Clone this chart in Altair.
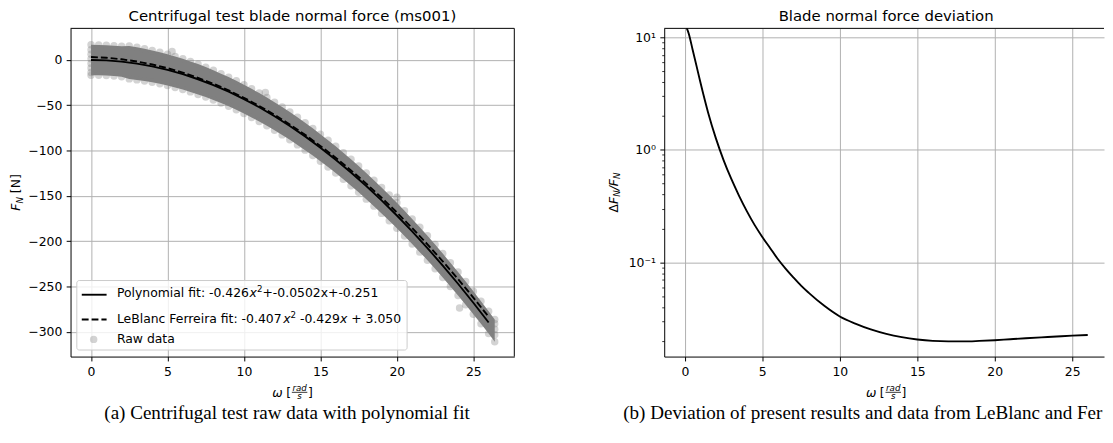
import altair as alt
import pandas as pd

# ---------------- data ----------------
# left panel: fitted curves (omega [rad/s], F_N [N])
fit_omega = [0, 1, 2, 3, 4, 5, 6, 7, 8, 9, 10, 11, 12, 13, 14, 15, 16, 17, 18, 19, 20, 21, 22, 23, 24, 25, 26]
poly_force = [-0.25, -0.73, -2.06, -4.24, -7.27, -11.15, -15.89, -21.48, -27.92, -35.21, -43.35, -52.35,
              -62.20, -72.90, -84.45, -96.85, -110.11, -124.22, -139.18, -154.99, -171.66, -189.17,
              -207.54, -226.76, -246.83, -267.76, -289.53]
leblanc_force = [3.05, 2.21, 0.56, -1.90, -5.18, -9.27, -14.18, -19.90, -26.43, -33.78, -41.94, -50.92,
                 -60.71, -71.31, -82.73, -94.96, -108.01, -121.87, -136.54, -152.03, -168.33, -185.45,
                 -203.38, -222.12, -241.68, -262.05, -283.24]

# raw-data cloud: upper / lower edge of the dense band
band_omega = [0.0, 0.5, 1.0, 1.5, 2.0, 2.5, 3.0, 3.5, 4.0, 4.5, 5.0, 5.5, 6.0, 6.5, 7.0, 7.5, 8.0, 8.5,
              9.0, 9.5, 10.0, 10.5, 11.0, 11.5, 12.0, 12.5, 13.0, 13.5, 14.0, 14.5, 15.0, 15.5, 16.0,
              16.5, 17.0, 17.5, 18.0, 18.5, 19.0, 19.5, 20.0, 20.5, 21.0, 21.5, 22.0, 22.5, 23.0, 23.5,
              24.0, 24.5, 25.0, 25.5, 26.0, 26.4]
band_upper = [16.6, 16.4, 16.0, 15.5, 14.8, 15.1, 13.8, 12.2, 10.3, 8.3, 6.2, 3.7, 1.1, -1.8, -4.8, -8.1,
              -11.5, -15.3, -19.1, -23.2, -27.5, -32.0, -36.7, -41.6, -46.7, -52.0, -57.6, -63.4, -69.4,
              -75.6, -82.0, -88.6, -95.4, -102.5, -109.6, -117.1, -124.8, -132.7, -140.7, -149.0, -157.6,
              -166.3, -175.4, -184.6, -194.0, -203.6, -213.6, -223.6, -233.9, -244.4, -255.2, -266.0,
              -277.2, -286.3]
band_lower = [-17.2, -17.2, -17.4, -18.0, -18.8, -21.1, -22.2, -23.5, -24.9, -26.5, -28.5, -30.5, -32.9,
              -35.4, -38.2, -41.1, -44.3, -47.7, -51.3, -55.2, -59.3, -63.6, -68.1, -72.8, -77.7, -82.8,
              -88.2, -93.8, -99.6, -105.6, -111.8, -118.2, -124.8, -131.7, -138.8, -146.1, -153.6, -161.3,
              -169.3, -177.4, -185.8, -194.3, -203.0, -212.0, -221.0, -230.4, -240.0, -249.8, -259.7,
              -270.0, -280.4, -291.0, -301.8, -310.7]
col_omega = [0.0, 0.0, 0.0, 0.0, 0.0, 0.0, 26.4, 26.4, 26.4]
col_force = [11.0, 6.0, 1.0, -4.0, -9.0, -14.0, -291.0, -297.0, -303.0]
stray_omega = [5.3, 11.4, 20.0, 24.1]
stray_force = [9.1, -36.0, -151.4, -273.5]

# right panel: deviation dF_N / F_N
dev_omega = [0, 0.25, 0.5, 0.75, 1, 1.5, 2, 2.5, 3, 3.5, 4, 4.5, 5, 5.5, 6, 6.5, 7, 7.5, 8, 9, 10,
             11, 12, 13, 14, 15, 16, 17, 18, 19, 20, 21, 22, 23, 24, 25, 26]
dev_ratio = [13.2, 10.8, 7.8, 5.6, 4.0, 2.15, 1.27, 0.81, 0.55, 0.39, 0.285, 0.215, 0.168, 0.134,
             0.107, 0.088, 0.0735, 0.062, 0.0535, 0.041, 0.033, 0.0285, 0.0253, 0.0231, 0.0216,
             0.0206, 0.0200, 0.0198, 0.0198, 0.0200, 0.0203, 0.0207, 0.0211, 0.0215, 0.0219,
             0.0223, 0.0226]

x_ticks = [0, 5, 10, 15, 20, 25]
y_ticks_left = [0, -50, -100, -150, -200, -250, -300]
y_ticks_right = [0.1, 1, 10]
y_minor_right = [0.02, 0.03, 0.04, 0.05, 0.06, 0.07, 0.08, 0.09,
                 0.2, 0.3, 0.4, 0.5, 0.6, 0.7, 0.8, 0.9,
                 2, 3, 4, 5, 6, 7, 8, 9]

title_left = "Centrifugal test blade normal force (ms001)"
title_right = "Blade normal force deviation"
caption_left = "(a) Centrifugal test raw data with polynomial fit"
caption_right = "(b) Deviation of present results and data from LeBlanc and Ferreira"

# ---------------- styling helpers ----------------
FONT = "DejaVu Sans"
SERIF = "Liberation Serif"
LW, LH = 447, 330.6
RW = 443
NB = "\u00a0"

EM = {' ': .318, '-': .361, '.': .318, '+': .838, ':': .337, 'x': .592, 'P': .603, 'o': .612,
      'l': .278, 'y': .592, 'n': .634, 'm': .974, 'i': .278, 'a': .613, 'f': .352, 't': .392,
      'L': .557, 'e': .615, 'B': .686, 'c': .550, 'F': .575, 'r': .411, 'R': .695, 'w': .818,
      'd': .635, '[': .390, ']': .390, 'N': .748, 'Δ': .684, '/': .337, 's': .521}
for _d in "0123456789":
    EM[_d] = .636


def tw(s, size):
    return sum(EM.get(c, 0.6) for c in s) * size


one = pd.DataFrame({"k": [0]})


def txt(s, x, y, size=12.5, style="normal", angle=0, align="left", font=FONT, **kw):
    return alt.Chart(one).mark_text(
        text=s.replace(" ", NB), font=font, fontSize=size, fontStyle=style, angle=angle, align=align,
        baseline="alphabetic", color="black", **kw
    ).encode(x=alt.value(x), y=alt.value(y))


def rule(x, x2, y, y2, width=1.0, color="black", dash=None, opacity=1.0):
    kw = dict(color=color, strokeWidth=width, opacity=opacity)
    if dash:
        kw["strokeDash"] = dash
    return alt.Chart(one).mark_rule(**kw).encode(
        x=alt.value(x), x2=alt.value(x2), y=alt.value(y), y2=alt.value(y2))


def hpieces(parts, x0, yb):
    out, x = [], x0
    for t, kind in parts:
        if kind == "n":
            sz, st, dy = 12.5, "normal", 0.0
        elif kind == "i":
            sz, st, dy = 12.5, "italic", 0.0
        else:
            sz, st, dy = 8.75, "normal", -5.0
        core = t.lstrip(" ")
        lead = tw(t[: len(t) - len(core)], sz)
        out.append(txt(core, x + lead, yb + dy, size=sz, style=st))
        x += tw(t, sz)
    return out


def vpieces(parts, xb, yc):
    total = sum(tw(t, sz) for t, sz, st, dx in parts)
    y = yc + total / 2
    out = []
    for t, sz, st, dx in parts:
        core = t.lstrip(" ")
        lead = tw(t[: len(t) - len(core)], sz)
        out.append(txt(core, xb + dx, y - lead, size=sz, style=st, angle=270))
        y -= tw(t, sz)
    return out


def xtitle(cx):
    yb = 371.3
    return [
        txt("ω", cx - 20.3, yb, style="italic"),
        txt("[", cx - 6.3, yb),
        txt("rad", cx + 7.2, 365.1, size=8.75, style="italic", align="center"),
        rule(cx - 0.6, cx + 15.0, 366.6, 366.6, width=0.8),
        txt("s", cx + 7.2, 372.9, size=8.75, style="italic", align="center"),
        txt("]", cx + 15.6, yb),
    ]


axis_x = alt.Axis(values=x_ticks, format="d", grid=True, title=None)
axis_y_left = alt.Axis(values=y_ticks_left, format="d", grid=True, title=None)

# ---------------- left panel ----------------
band_df = pd.DataFrame({"w": band_omega, "up": band_upper, "lo": band_lower})
edge_df = pd.DataFrame({"w": band_omega + band_omega + col_omega + stray_omega,
                        "f": band_upper + band_lower + col_force + stray_force})
fit_df = pd.DataFrame({"w": fit_omega, "poly": poly_force, "lb": leblanc_force})

xs_left = alt.Scale(domain=[-1.34, 27.68], nice=False, zero=False)
ys_left = alt.Scale(domain=[-327.1, 34.6], nice=False, zero=False)

band = alt.Chart(band_df).mark_area(color="#808080", opacity=1).encode(
    x=alt.X("w:Q", scale=xs_left, axis=axis_x),
    y=alt.Y("up:Q", scale=ys_left, axis=axis_y_left),
    y2="lo:Q",
)
edges = alt.Chart(edge_df).mark_circle(size=56, color="#808080", opacity=0.35).encode(
    x=alt.X("w:Q", scale=xs_left, axis=axis_x),
    y=alt.Y("f:Q", scale=ys_left, axis=axis_y_left),
)
poly_line = alt.Chart(fit_df).mark_line(color="black", strokeWidth=1.9).encode(
    x=alt.X("w:Q", scale=xs_left, axis=axis_x),
    y=alt.Y("poly:Q", scale=ys_left, axis=axis_y_left),
)
lb_line = alt.Chart(fit_df).mark_line(color="black", strokeWidth=1.9, strokeDash=[6.9, 3.0]).encode(
    x=alt.X("w:Q", scale=xs_left, axis=axis_x),
    y=alt.Y("lb:Q", scale=ys_left, axis=axis_y_left),
)

legend_box = alt.Chart(one).mark_rect(
    fill="white", fillOpacity=0.8, stroke="#cccccc", strokeWidth=1, cornerRadius=2.5
).encode(x=alt.value(6.3), x2=alt.value(339), y=alt.value(254), y2=alt.value(324))
legend_items = [
    rule(11.3, 36.3, 268.3, 268.3, width=1.9),
    rule(11.3, 36.3, 293.3, 293.3, width=1.9, dash=[6.9, 3.0]),
    alt.Chart(one).mark_circle(size=56, color="#808080", opacity=0.35).encode(
        x=alt.value(23.3), y=alt.value(313.3)),
]
legend_text = (
    hpieces([("Polynomial fit: -0.426", "n"), ("x", "i"), ("2", "sup"), ("+-0.0502x+-0.251", "n")], 46.7, 270.6)
    + hpieces([("LeBlanc Ferreira fit: -0.407", "n"), ("x", "i"), ("2", "sup"), (" -0.429", "n"),
               ("x", "i"), (" + 3.050", "n")], 46.7, 296.6)
    + [txt("Raw data", 46.7, 316.6)]
)

left_layers = (
    [band, edges, poly_line, lb_line,
     rule(0, LW, 0, 0), rule(LW, LW, 0, LH),
     legend_box] + legend_items + legend_text
    + [txt(title_left, LW / 2, -7, size=15, align="center")]
    + xtitle(LW / 2)
    + vpieces([("F", 12.5, "italic", 0), ("N", 8.75, "italic", 2.2), (" [N]", 12.5, "normal", 0)], -50.5, LH / 2)
    + [txt(caption_left, 34, 393.3, size=19.2, font=SERIF),
       rule(-63, -62, -18.7, -18.7, opacity=0)]
)
left = alt.layer(*left_layers).properties(width=LW, height=LH)

# ---------------- right panel ----------------
dev_df = pd.DataFrame({"w": dev_omega, "r": dev_ratio})
xs_right = alt.Scale(domain=[-1.33, 27.05], nice=False, zero=False)
ys_right = alt.Scale(type="log", domain=[0.01452, 12.0], nice=False)

dev_line = alt.Chart(dev_df).mark_line(color="black", strokeWidth=1.9, clip=True, interpolate="monotone").encode(
    x=alt.X("w:Q", scale=xs_right, axis=axis_x),
    y=alt.Y("r:Q", scale=ys_right, axis=alt.Axis(
        values=y_ticks_right, grid=True, title=None,
        labelExpr="datum.value >= 5 ? '10¹' : (datum.value >= 0.5 ? '10⁰' : '10⁻¹')")),
)
minor = alt.Chart(dev_df).mark_line(opacity=0, clip=True).encode(
    x=alt.X("w:Q", scale=xs_right, axis=axis_x),
    y=alt.Y("r:Q", scale=ys_right, axis=alt.Axis(
        orient="left", values=y_minor_right, labels=False, grid=False, domain=False,
        tickSize=2.5, tickWidth=0.8, title=None)),
)

right_layers = (
    [dev_line, minor, rule(0, RW, 0, 0),
     txt(title_right, 223.5, -7, size=15, align="center")]
    + xtitle(223.5)
    + vpieces([("Δ", 12.5, "normal", 0), ("F", 12.5, "italic", 0), ("N", 8.75, "italic", 2.2),
               ("/F", 12.5, "italic", 0), ("N", 8.75, "italic", 2.2)], -47, LH / 2)
    + [txt(caption_right, -41.3, 393.3, size=19.2, font=SERIF, limit=484, ellipsis="\u200b")]
)
right = alt.layer(*right_layers).resolve_axis(y="independent").properties(width=RW, height=LH)

chart = alt.hconcat(left, right, spacing=151, bounds="flush").properties(
    padding=0
).configure_view(stroke=None).configure_axis(
    labelFont=FONT, labelFontSize=12.5, labelColor="black", labelPadding=4.4,
    labelFlush=False, labelOverlap=False,
    tickColor="black", tickSize=4.4, tickWidth=1,
    domainColor="black", domainWidth=1,
    gridColor="#b0b0b0", gridWidth=1,
)

chart.save("out.html", embed_options={"renderer": "svg", "actions": False})
